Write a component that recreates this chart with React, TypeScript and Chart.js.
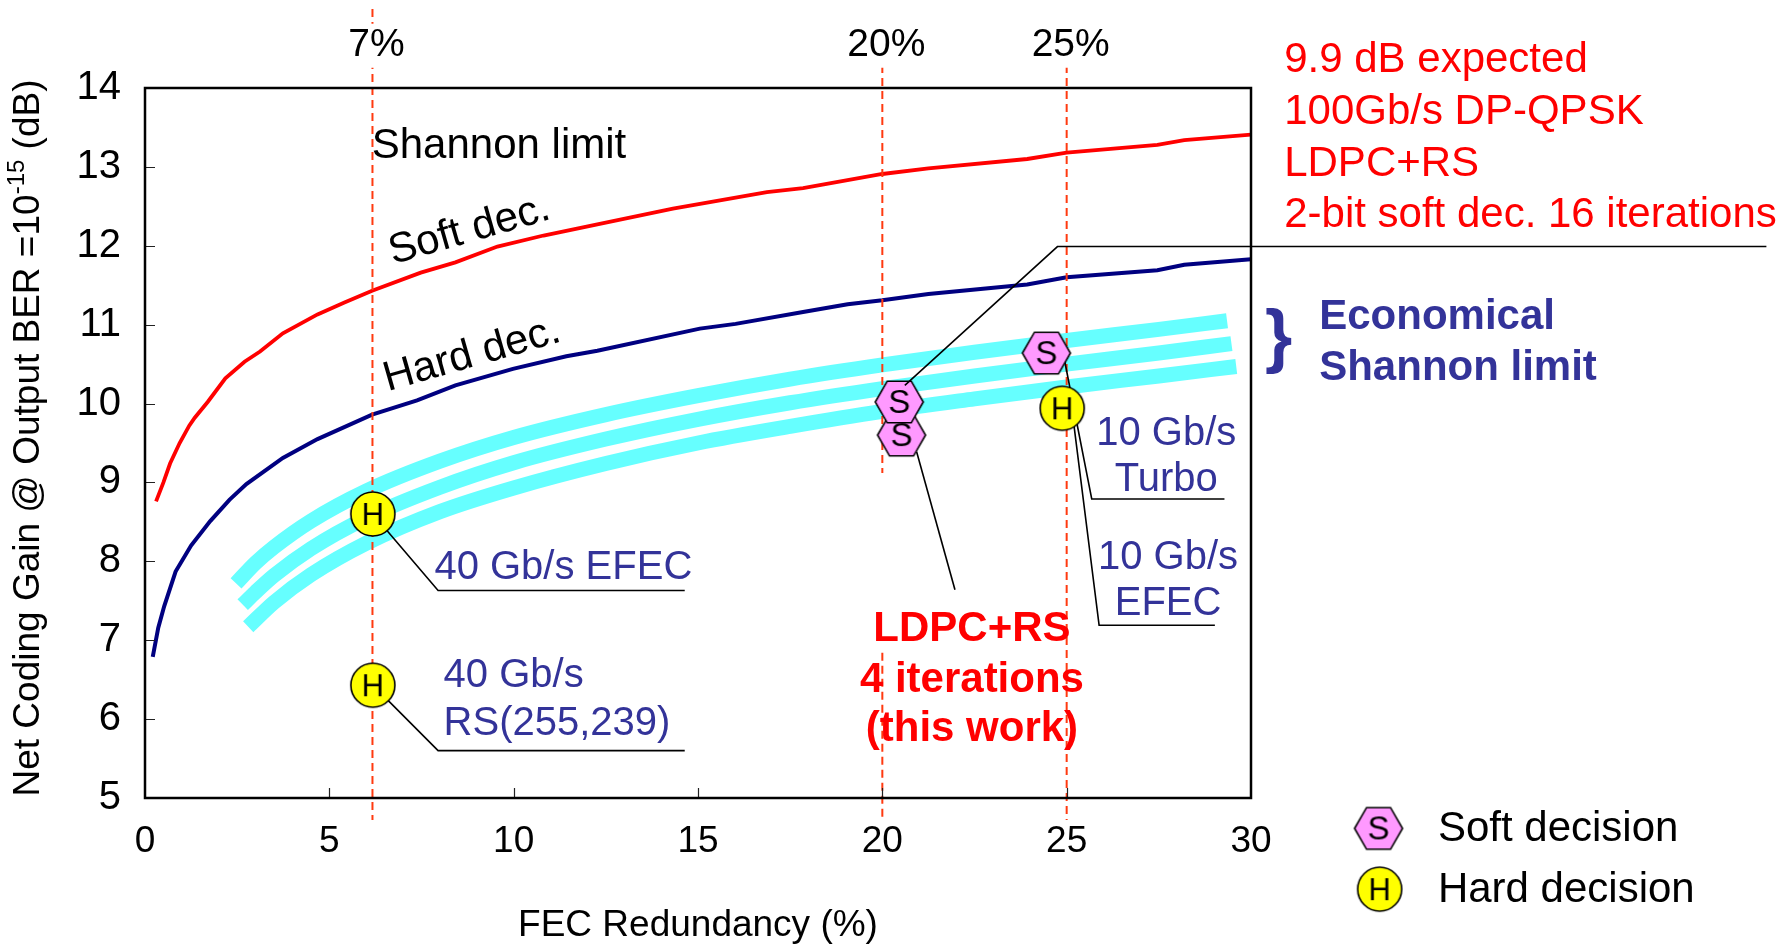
import React, { useEffect, useRef } from "react";
import { Chart, registerables } from "chart.js";

Chart.register(...registerables);

const FONT = '"Liberation Sans", Arial, Helvetica, sans-serif';

// ---------------- data ----------------
// Shannon limit, soft decision (red)
const softX = [0.3, 0.5, 0.68, 0.94, 1.2, 1.35, 1.7, 2.18, 2.7, 3.12, 3.74, 4.68, 5.41, 6.16, 7.48, 8.42, 9.56, 10.81, 12.27, 14.32, 16.87, 17.85, 20.0, 21.25, 23.93, 25.0, 27.46, 28.19, 30.0];
const softY = [8.76, 9.0, 9.24, 9.5, 9.72, 9.82, 10.02, 10.32, 10.53, 10.66, 10.89, 11.13, 11.28, 11.43, 11.66, 11.79, 11.99, 12.13, 12.27, 12.47, 12.68, 12.73, 12.91, 12.98, 13.1, 13.18, 13.28, 13.34, 13.41];

// Shannon limit, hard decision (navy)
const hardX = [0.21, 0.36, 0.52, 0.83, 1.25, 1.77, 2.29, 2.75, 3.74, 4.68, 6.16, 7.38, 8.42, 9.98, 11.43, 12.27, 15.05, 16.02, 17.85, 19.06, 20.0, 21.25, 23.93, 25.0, 27.46, 28.19, 30.0];
const hardY = [6.79, 7.16, 7.43, 7.87, 8.2, 8.51, 8.78, 8.98, 9.31, 9.55, 9.86, 10.04, 10.23, 10.44, 10.6, 10.67, 10.95, 11.01, 11.16, 11.26, 11.31, 11.39, 11.51, 11.6, 11.69, 11.76, 11.83];

// Economical Shannon limit bands (cyan)
const bandTopX = [2.47, 3.0, 3.5, 4.5, 6.0, 8.0, 10, 12.5, 15, 17.5, 20, 22.5, 25, 27.5, 29.35];
const bandTopY = [7.72, 7.98, 8.18, 8.51, 8.89, 9.27, 9.57, 9.86, 10.1, 10.31, 10.49, 10.65, 10.8, 10.94, 11.05];
const bandMidX = [2.65, 3.0, 3.5, 4.5, 6.0, 8.0, 10, 12.5, 15, 17.5, 20, 22.5, 25, 27.5, 29.47];
const bandMidY = [7.45, 7.61, 7.82, 8.16, 8.55, 8.94, 9.25, 9.55, 9.8, 10.01, 10.19, 10.35, 10.5, 10.64, 10.76];
const bandLowX = [2.8, 3.5, 4.5, 6.0, 8.0, 10, 12.5, 15, 17.5, 20, 22.5, 25, 27.5, 29.6];
const bandLowY = [7.17, 7.48, 7.83, 8.23, 8.63, 8.93, 9.24, 9.5, 9.71, 9.9, 10.06, 10.21, 10.35, 10.47];

// Experimental points
const hardPtX = [6.18, 6.18, 24.88];
const hardPtY = [8.6, 6.43, 9.94];
const softPtX = [20.52, 20.46, 24.45];
const softPtY = [9.6, 10.02, 10.64];

// Axes
const xTickValues = [0, 5, 10, 15, 20, 25, 30];
const xTickLabels = ["0", "5", "10", "15", "20", "25", "30"];
const yTickValues = [5, 6, 7, 8, 9, 10, 11, 12, 13, 14];
const yTickLabels = ["5", "6", "7", "8", "9", "10", "11", "12", "13", "14"];

// Overhead reference lines
const overheadX = [6.17, 20.0, 25.0];
const overheadLabels = ["7%", "20%", "25%"];

// Leader lines (data coordinates)
const leadLdpcUpX = [20.61, 24.75, 43.98];
const leadLdpcUpY = [10.23, 11.99, 11.99];
const leadLdpcLowX = [20.93, 21.97];
const leadLdpcLowY = [9.39, 7.64];
const leadTurboX = [24.95, 25.68, 29.28];
const leadTurboY = [10.53, 8.79, 8.79];
const leadEfec10X = [25.14, 25.88, 29.02];
const leadEfec10Y = [9.94, 7.19, 7.19];
const leadEfec40X = [6.18, 7.95, 14.64];
const leadEfec40Y = [8.6, 7.63, 7.63];
const leadRsX = [6.18, 7.95, 14.64];
const leadRsY = [6.43, 5.6, 5.6];

const BLUE_TXT = "#333399";

type Lbl = { t: string; x: number; y: number; size: number; color: string; align?: CanvasTextAlign; bold?: boolean; rot?: number };
const labels: Lbl[] = [
  { t: "Shannon limit", x: 6.15, y: 13.31, size: 42, color: "#000" },
  { t: "Soft dec.", x: 8.8, y: 12.24, size: 42, color: "#000", align: "center", rot: -16 },
  { t: "Hard dec.", x: 8.87, y: 10.66, size: 42, color: "#000", align: "center", rot: -16 },
  { t: "40 Gb/s EFEC", x: 7.85, y: 7.96, size: 40, color: BLUE_TXT },
  { t: "40 Gb/s", x: 8.1, y: 6.59, size: 40, color: BLUE_TXT },
  { t: "RS(255,239)", x: 8.1, y: 5.98, size: 40, color: BLUE_TXT },
  { t: "10 Gb/s", x: 27.7, y: 9.66, size: 40, color: BLUE_TXT, align: "center" },
  { t: "Turbo", x: 27.7, y: 9.08, size: 40, color: BLUE_TXT, align: "center" },
  { t: "10 Gb/s", x: 27.75, y: 8.09, size: 40, color: BLUE_TXT, align: "center" },
  { t: "EFEC", x: 27.75, y: 7.5, size: 40, color: BLUE_TXT, align: "center" },
  { t: "LDPC+RS", x: 22.43, y: 7.18, size: 42, color: "#FF0000", align: "center", bold: true },
  { t: "4 iterations", x: 22.43, y: 6.53, size: 42, color: "#FF0000", align: "center", bold: true },
  { t: "(this work)", x: 22.43, y: 5.91, size: 42, color: "#FF0000", align: "center", bold: true },
  { t: "9.9 dB expected", x: 30.9, y: 14.39, size: 42, color: "#FF0000" },
  { t: "100Gb/s DP-QPSK", x: 30.9, y: 13.73, size: 42, color: "#FF0000" },
  { t: "LDPC+RS", x: 30.9, y: 13.07, size: 42, color: "#FF0000" },
  { t: "2-bit soft dec. 16 iterations", x: 30.9, y: 12.43, size: 42, color: "#FF0000" },
  { t: "}", x: 30.75, y: 10.86, size: 70, color: BLUE_TXT, align: "center", bold: true },
  { t: "Economical", x: 31.85, y: 11.14, size: 42, color: BLUE_TXT, bold: true },
  { t: "Shannon limit", x: 31.85, y: 10.49, size: 42, color: BLUE_TXT, bold: true },
  { t: "Soft decision", x: 35.07, y: 4.65, size: 42, color: "#000" },
  { t: "Hard decision", x: 35.07, y: 3.87, size: 42, color: "#000" },
];

const legendSoft = { x: 33.46, y: 4.64 };
const legendHard = { x: 33.49, y: 3.87 };

function pts(xs: number[], ys: (number | null)[]) {
  return xs.map((v, i) => ({ x: v, y: ys[i] }));
}

function makeHex(): HTMLCanvasElement {
  const c = document.createElement("canvas");
  c.width = 52;
  c.height = 46;
  const g = c.getContext("2d")!;
  const cx = 26, cy = 23, r = 24, h = (r * Math.sqrt(3)) / 2;
  g.beginPath();
  g.moveTo(cx - r, cy);
  g.lineTo(cx - r / 2, cy - h);
  g.lineTo(cx + r / 2, cy - h);
  g.lineTo(cx + r, cy);
  g.lineTo(cx + r / 2, cy + h);
  g.lineTo(cx - r / 2, cy + h);
  g.closePath();
  g.fillStyle = "#FF99FF";
  g.fill();
  g.lineWidth = 1.6;
  g.strokeStyle = "#000";
  g.stroke();
  g.fillStyle = "#000";
  g.font = `33px ${FONT}`;
  g.textAlign = "center";
  g.textBaseline = "middle";
  g.fillText("S", cx, cy + 2);
  return c;
}

function makeCircle(): HTMLCanvasElement {
  const c = document.createElement("canvas");
  c.width = 48;
  c.height = 48;
  const g = c.getContext("2d")!;
  g.beginPath();
  g.arc(24, 24, 22, 0, Math.PI * 2);
  g.fillStyle = "#FFFF00";
  g.fill();
  g.lineWidth = 1.6;
  g.strokeStyle = "#000";
  g.stroke();
  g.fillStyle = "#000";
  g.font = `31px ${FONT}`;
  g.textAlign = "center";
  g.textBaseline = "middle";
  g.fillText("H", 24, 26);
  return c;
}

export default function App() {
  const ref = useRef<HTMLCanvasElement>(null);

  useEffect(() => {
    const canvas = ref.current!;
    const hexImg = makeHex();
    const circImg = makeCircle();

    const line = (data: any[], color: string, width: number, order: number, extra: any = {}) => ({
      type: "line",
      data,
      borderColor: color,
      backgroundColor: color,
      borderWidth: width,
      pointRadius: 0,
      fill: false,
      tension: 0,
      order,
      ...extra,
    });

    const dashColor = "#FF3A10";
    const dashOpts = { borderDash: [8, 5], clip: false, spanGaps: false };
    const TXT_SHIFT = 3.5;

    const decor = {
      id: "decor",
      afterDraw(chart: any) {
        const { ctx, chartArea: a, scales } = chart;
        const xs = scales.x, ys = scales.y;
        const px = (v: number) => xs.getPixelForValue(v);
        const py = (v: number) => ys.getPixelForValue(v);
        ctx.save();
        // inward tick marks
        ctx.strokeStyle = "#222";
        ctx.lineWidth = 1.2;
        ctx.beginPath();
        for (const v of yTickValues) {
          if (v === yTickValues[0] || v === yTickValues[yTickValues.length - 1]) continue;
          const yy = Math.round(py(v)) + 0.5;
          ctx.moveTo(a.left, yy);
          ctx.lineTo(a.left + 10, yy);
        }
        for (const v of xTickValues) {
          if (v === xTickValues[0] || v === xTickValues[xTickValues.length - 1]) continue;
          const xx = Math.round(px(v)) + 0.5;
          ctx.moveTo(xx, a.bottom);
          ctx.lineTo(xx, a.bottom - 10);
        }
        ctx.stroke();
        // plot frame
        ctx.strokeStyle = "#000";
        ctx.lineWidth = 2.5;
        ctx.strokeRect(a.left, a.top, a.right - a.left, a.bottom - a.top);

        // overhead labels
        ctx.textAlign = "center";
        ctx.textBaseline = "middle";
        ctx.font = `39px ${FONT}`;
        overheadLabels.forEach((t, i) => {
          const cx = px(overheadX[i]) + 4;
          const cy = py(14.58) + TXT_SHIFT;
          const w = ctx.measureText(t).width;
          ctx.fillStyle = "#fff";
          ctx.fillRect(cx - w / 2 - 2, cy - 22, w + 4, 44);
          ctx.fillStyle = "#000";
          ctx.fillText(t, cx, cy);
        });

        // annotation texts
        for (const l of labels) {
          ctx.save();
          ctx.translate(px(l.x), py(l.y) + TXT_SHIFT);
          if (l.rot) ctx.rotate((l.rot * Math.PI) / 180);
          ctx.font = `${l.bold ? "bold " : ""}${l.size}px ${FONT}`;
          ctx.fillStyle = l.color;
          ctx.textAlign = l.align || "left";
          ctx.textBaseline = "middle";
          ctx.fillText(l.t, 0, 0);
          ctx.restore();
        }

        // legend markers
        ctx.drawImage(hexImg, px(legendSoft.x) - hexImg.width / 2, py(legendSoft.y) - hexImg.height / 2 + 2);
        ctx.drawImage(circImg, px(legendHard.x) - circImg.width / 2, py(legendHard.y) - circImg.height / 2 + 2);

        // y axis title with superscript
        ctx.save();
        ctx.translate(29, (a.top + a.bottom) / 2 - 5);
        ctx.rotate(-Math.PI / 2);
        ctx.fillStyle = "#000";
        ctx.textBaseline = "middle";
        ctx.textAlign = "left";
        const p1 = "Net Coding Gain @ Output BER =10";
        const p2 = "-15";
        const p3 = " (dB)";
        const f1 = `37px ${FONT}`;
        const f2 = `24px ${FONT}`;
        ctx.font = f1;
        const w1 = ctx.measureText(p1).width;
        const w3 = ctx.measureText(p3).width;
        ctx.font = f2;
        const w2 = ctx.measureText(p2).width;
        let sx = -(w1 + w2 + w3) / 2;
        ctx.font = f1;
        ctx.fillText(p1, sx, 0);
        sx += w1;
        ctx.font = f2;
        ctx.fillText(p2, sx, -12);
        sx += w2;
        ctx.font = f1;
        ctx.fillText(p3, sx, 0);
        ctx.restore();

        ctx.restore();
      },
    };

    const bandOpts = { cubicInterpolationMode: "monotone", borderCapStyle: "butt" };

    const chart = new Chart(canvas, {
      type: "line",
      data: {
        datasets: [
          line(pts(leadLdpcUpX, leadLdpcUpY), "#000", 1.6, 0, { clip: false }),
          {
            type: "line",
            label: "Hard decision",
            data: pts(hardPtX, hardPtY),
            showLine: false,
            pointStyle: circImg,
            pointRadius: 22,
            order: 1,
          },
          {
            type: "line",
            label: "Soft decision",
            data: pts(softPtX, softPtY),
            showLine: false,
            pointStyle: hexImg,
            pointRadius: 22,
            order: 1,
          },
          line(pts(leadLdpcLowX, leadLdpcLowY), "#000", 1.6, 2, { clip: false }),
          line(pts(leadTurboX, leadTurboY), "#000", 1.6, 2, { clip: false }),
          line(pts(leadEfec10X, leadEfec10Y), "#000", 1.6, 2, { clip: false }),
          line(pts(leadEfec40X, leadEfec40Y), "#000", 1.6, 2, { clip: false }),
          line(pts(leadRsX, leadRsY), "#000", 1.6, 2, { clip: false }),
          line(pts([overheadX[0], overheadX[0]], [15.0, 4.72]), dashColor, 2, 3, dashOpts),
          line(
            pts([overheadX[1], overheadX[1], overheadX[1], overheadX[1], overheadX[1]], [14.29, 9.12, null, 6.84, 4.72]),
            dashColor, 2, 3, dashOpts
          ),
          line(pts([overheadX[2], overheadX[2]], [14.29, 4.72]), dashColor, 2, 3, dashOpts),
          line(pts(softX, softY), "#FF0000", 3.8, 4),
          line(pts(hardX, hardY), "#000080", 4, 4),
          line(pts(bandTopX, bandTopY), "#66FFFF", 15, 5, bandOpts),
          line(pts(bandMidX, bandMidY), "#66FFFF", 15, 5, bandOpts),
          line(pts(bandLowX, bandLowY), "#66FFFF", 15, 5, bandOpts),
        ] as any,
      },
      options: {
        responsive: false,
        maintainAspectRatio: false,
        animation: false,
        devicePixelRatio: 1,
        events: [],
        layout: { padding: { left: 0, top: 88, right: 536, bottom: 0 } },
        plugins: { legend: { display: false }, tooltip: { enabled: false } },
        scales: {
          x: {
            type: "linear",
            min: 0,
            max: 30,
            grid: { display: false, drawTicks: false },
            border: { display: false },
            afterBuildTicks: (s: any) => {
              s.ticks = xTickValues.map((v) => ({ value: v }));
            },
            afterFit: (s: any) => {
              s.height = 153;
            },
            ticks: {
              autoSkip: false,
              maxRotation: 0,
              padding: 22,
              color: "#000",
              font: { family: FONT, size: 37 },
              callback: (v: any) => xTickLabels[xTickValues.indexOf(Number(v))],
            },
            title: {
              display: true,
              text: "FEC Redundancy (%)",
              color: "#000",
              font: { family: FONT, size: 37 },
              padding: { top: 0, bottom: 3 },
            },
          },
          y: {
            type: "linear",
            min: 5,
            max: 14,
            grid: { display: false, drawTicks: false },
            border: { display: false },
            afterBuildTicks: (s: any) => {
              s.ticks = yTickValues.map((v) => ({ value: v }));
            },
            afterFit: (s: any) => {
              s.width = 145;
            },
            ticks: {
              autoSkip: false,
              padding: 24,
              color: "#000",
              font: { family: FONT, size: 40 },
              callback: (v: any) => yTickLabels[yTickValues.indexOf(Number(v))],
            },
          },
        },
      } as any,
      plugins: [decor],
    });

    return () => chart.destroy();
  }, []);

  return (
    <div style={{ position: "fixed", left: 0, top: 0, width: 1787, height: 951, background: "#fff" }}>
      <canvas ref={ref} width={1787} height={951} style={{ display: "block", width: 1787, height: 951 }} />
    </div>
  );
}
